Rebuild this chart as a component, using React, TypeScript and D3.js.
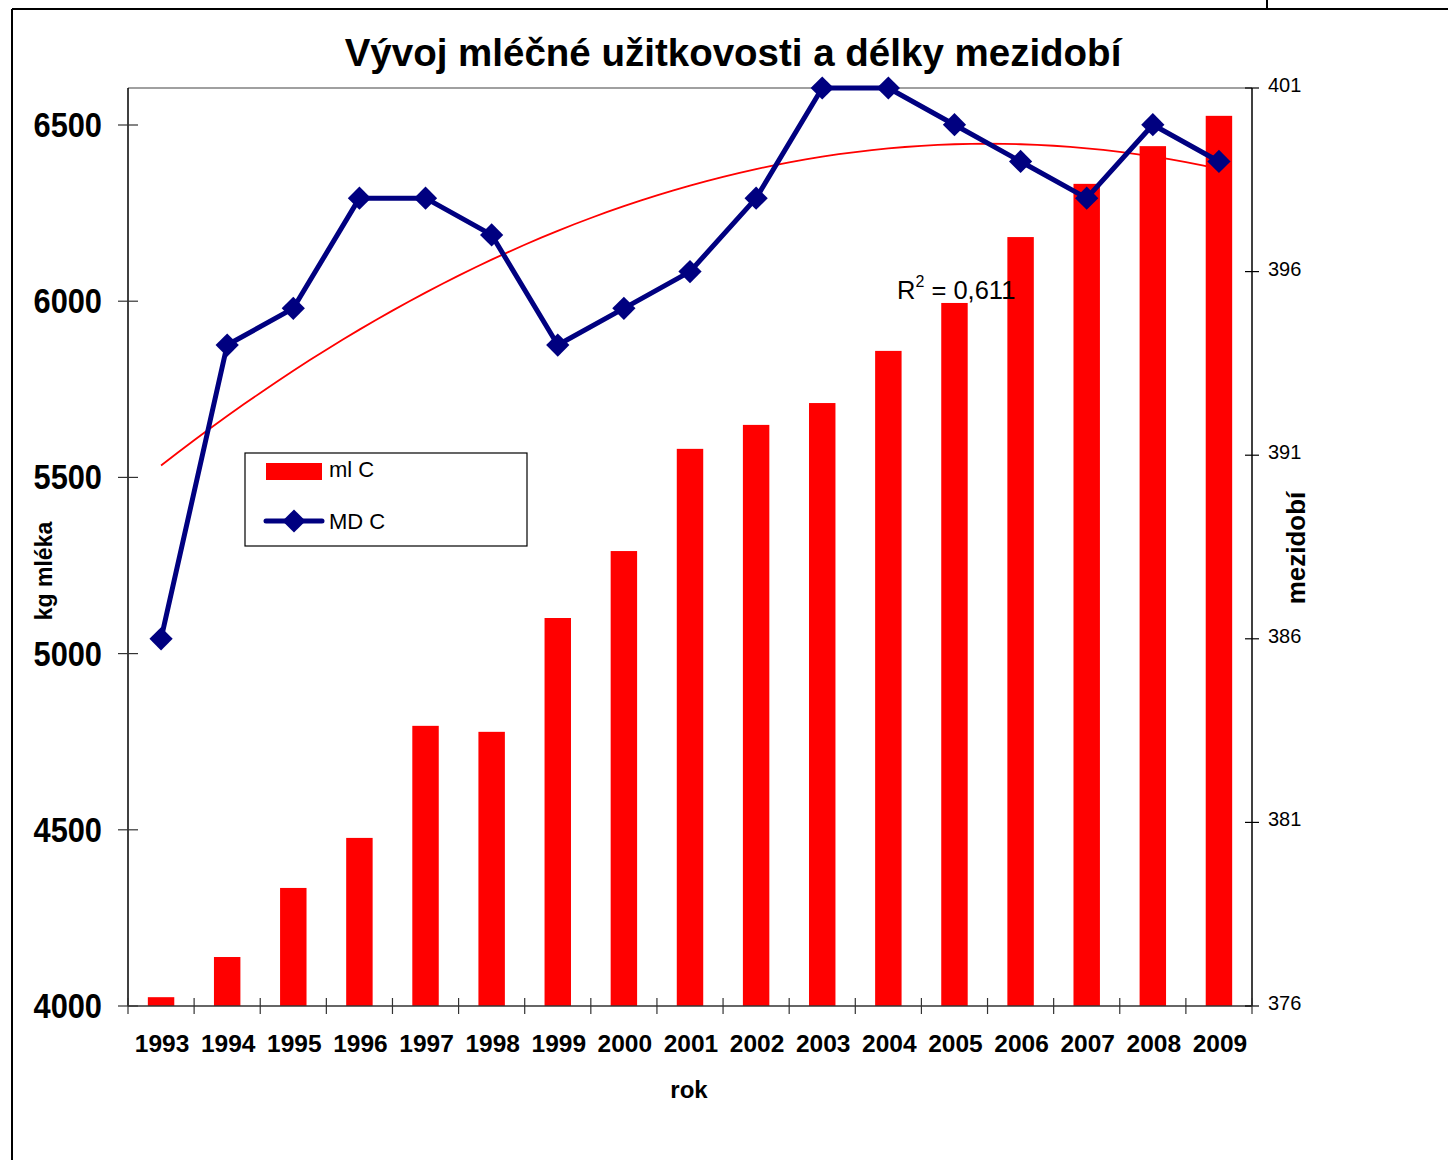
import React, { useEffect, useRef } from "react";
import * as d3 from "d3";

const years = ["1993", "1994", "1995", "1996", "1997", "1998", "1999", "2000", "2001", "2002", "2003", "2004", "2005", "2006", "2007", "2008", "2009"];
const mlC = [4025, 4139, 4335, 4477, 4795, 4778, 5101, 5291, 5581, 5649, 5711, 5859, 5995, 6182, 6333, 6440, 6526];
const mdC = [386, 394, 395, 398, 398, 397, 394, 395, 396, 398, 401, 401, 400, 399, 398, 400, 399];
const leftTicks = [4000, 4500, 5000, 5500, 6000, 6500];
const rightTicks = [376, 381, 386, 391, 396, 401];

// least squares quadratic (Excel polynomial trendline, order 2)
function quadFit(ys: number[]) {
  const n = ys.length;
  const xs = ys.map((_, i) => i + 1);
  const s = (f: (x: number, y: number) => number) => d3.sum(xs, (x, i) => f(x, ys[i]));
  const S0 = n, S1 = s((x) => x), S2 = s((x) => x * x), S3 = s((x) => x ** 3), S4 = s((x) => x ** 4);
  const T0 = s((x, y) => y), T1 = s((x, y) => x * y), T2 = s((x, y) => x * x * y);
  const A = [[S0, S1, S2, T0], [S1, S2, S3, T1], [S2, S3, S4, T2]];
  for (let i = 0; i < 3; i++) {
    for (let j = i + 1; j < 3; j++) {
      const f = A[j][i] / A[i][i];
      for (let k = i; k < 4; k++) A[j][k] -= f * A[i][k];
    }
  }
  const c = A[2][3] / A[2][2];
  const b = (A[1][3] - A[1][2] * c) / A[1][1];
  const a = (A[0][3] - A[0][2] * c - A[0][1] * b) / A[0][0];
  return (x: number) => a + b * x + c * x * x;
}

export default function App() {
  const ref = useRef<SVGSVGElement>(null);

  useEffect(() => {
    const svg = d3.select(ref.current);
    svg.selectAll("*").remove();

    const left = 128, right = 1252, top = 88, bottom = 1006;
    const font = "Arial, 'Liberation Sans', sans-serif";

    const x = d3.scaleBand().domain(years).range([left, right]).paddingInner(0.6).paddingOuter(0.3);
    const yL = d3.scaleLinear().domain([4000, 6605]).range([bottom, top]);
    const yR = d3.scaleLinear().domain([376, 401]).range([bottom, top]);
    const cx = (d: string) => (x(d) as number) + x.bandwidth() / 2;
    const step = (right - left) / years.length;

    // outer frame
    svg.append("line").attr("x1", 12).attr("x2", 1448).attr("y1", 9).attr("y2", 9).attr("stroke", "#000").attr("stroke-width", 2);
    svg.append("line").attr("x1", 12).attr("x2", 12).attr("y1", 9).attr("y2", 1160).attr("stroke", "#000").attr("stroke-width", 2);
    svg.append("line").attr("x1", 1267).attr("x2", 1267).attr("y1", 0).attr("y2", 9).attr("stroke", "#000").attr("stroke-width", 2);

    // title
    svg.append("text").attr("x", 733).attr("y", 66).attr("text-anchor", "middle")
      .attr("font-family", font).attr("font-weight", "bold").attr("font-size", 38.5)
      .text("Vývoj mléčné užitkovosti a délky mezidobí");

    // plot border top
    svg.append("line").attr("x1", left).attr("x2", right).attr("y1", top).attr("y2", top).attr("stroke", "#808080").attr("stroke-width", 1.5);

    // bars
    svg.append("g").selectAll("rect").data(years).enter().append("rect")
      .attr("x", (d) => x(d) as number)
      .attr("width", x.bandwidth())
      .attr("y", (d, i) => yL(mlC[i]))
      .attr("height", (d, i) => bottom - yL(mlC[i]))
      .attr("fill", "#ff0000");

    // axes lines
    svg.append("line").attr("x1", left).attr("x2", left).attr("y1", top).attr("y2", bottom).attr("stroke", "#000").attr("stroke-width", 1.5);
    svg.append("line").attr("x1", right).attr("x2", right).attr("y1", top).attr("y2", bottom).attr("stroke", "#000").attr("stroke-width", 1.5);
    svg.append("line").attr("x1", left).attr("x2", right).attr("y1", bottom).attr("y2", bottom).attr("stroke", "#333").attr("stroke-width", 1.5);

    // left ticks
    const lt = svg.append("g");
    leftTicks.forEach((t) => {
      lt.append("line").attr("x1", left - 10).attr("x2", left + 10).attr("y1", yL(t)).attr("y2", yL(t)).attr("stroke", "#333").attr("stroke-width", 1.2);
      lt.append("text").attr("transform", `translate(102,${yL(t) + 12}) scale(0.88,1)`).attr("text-anchor", "end")
        .attr("font-family", font).attr("font-weight", "bold").attr("font-size", 35).text(t);
    });

    // right ticks
    const rt = svg.append("g");
    rightTicks.forEach((t) => {
      rt.append("line").attr("x1", right - 7).attr("x2", right + 7).attr("y1", yR(t)).attr("y2", yR(t)).attr("stroke", "#000").attr("stroke-width", 1.2);
      rt.append("text").attr("x", 1268).attr("y", yR(t) + 4)
        .attr("font-family", font).attr("font-size", 20).text(t);
    });

    // x ticks
    const xt = svg.append("g");
    d3.range(years.length + 1).forEach((i) => {
      const px = left + i * step;
      xt.append("line").attr("x1", px).attr("x2", px).attr("y1", bottom - 8).attr("y2", bottom + 8).attr("stroke", "#333").attr("stroke-width", 1.2);
    });
    years.forEach((d) => {
      xt.append("text").attr("x", cx(d) + 1).attr("y", 1052).attr("text-anchor", "middle")
        .attr("font-family", font).attr("font-weight", "bold").attr("font-size", 24.5).text(d);
    });

    // axis titles
    svg.append("text").attr("transform", "translate(52,571) rotate(-90)").attr("text-anchor", "middle")
      .attr("font-family", font).attr("font-weight", "bold").attr("font-size", 23).text("kg mléka");
    svg.append("text").attr("transform", "translate(1305,548) rotate(-90)").attr("text-anchor", "middle")
      .attr("font-family", font).attr("font-weight", "bold").attr("font-size", 26).text("mezidobí");
    svg.append("text").attr("x", 689).attr("y", 1098).attr("text-anchor", "middle")
      .attr("font-family", font).attr("font-weight", "bold").attr("font-size", 24).text("rok");

    // trendline
    const f = quadFit(mdC);
    const tPts = d3.range(1, years.length + 0.001, 0.25).map((t) => [cx(years[0]) + (t - 1) * step, yR(f(t))] as [number, number]);
    svg.append("path").attr("d", d3.line()(tPts)).attr("fill", "none").attr("stroke", "#ff0000").attr("stroke-width", 1.8);

    // MD line
    const line = d3.line<number>().x((d, i) => cx(years[i])).y((d) => yR(d));
    svg.append("path").attr("d", line(mdC)).attr("fill", "none").attr("stroke", "#000080").attr("stroke-width", 5).attr("stroke-linejoin", "round");
    const sym = d3.symbol(d3.symbolSquare, 270);
    svg.append("g").selectAll("path").data(mdC).enter().append("path")
      .attr("d", sym())
      .attr("transform", (d, i) => `translate(${cx(years[i])},${yR(d)}) rotate(45)`)
      .attr("fill", "#000080");

    // R2 label
    const r2 = svg.append("text").attr("x", 897).attr("y", 299)
      .attr("font-family", font).attr("font-size", 25.5).attr("fill", "#000");
    r2.append("tspan").text("R");
    r2.append("tspan").attr("font-size", 16).attr("dy", -12).text("2");
    r2.append("tspan").attr("dy", 12).text(" = 0,611");

    // legend
    const lg = svg.append("g");
    lg.append("rect").attr("x", 245).attr("y", 453).attr("width", 282).attr("height", 93).attr("fill", "#fff").attr("stroke", "#000").attr("stroke-width", 1.2);
    lg.append("rect").attr("x", 266).attr("y", 463).attr("width", 56).attr("height", 17).attr("fill", "#ff0000");
    lg.append("text").attr("x", 329).attr("y", 477).attr("font-family", font).attr("font-size", 22).text("ml C");
    lg.append("line").attr("x1", 266).attr("x2", 322).attr("y1", 521).attr("y2", 521).attr("stroke", "#000080").attr("stroke-width", 5).attr("stroke-linecap", "round");
    lg.append("path").attr("d", sym()).attr("transform", "translate(294,521) rotate(45)").attr("fill", "#000080");
    lg.append("text").attr("x", 329).attr("y", 529).attr("font-family", font).attr("font-size", 22).text("MD C");
  }, []);

  return (
    <svg ref={ref} width={1448} height={1160} style={{ position: "absolute", left: 0, top: 0, background: "#fff" }}></svg>
  );
}
